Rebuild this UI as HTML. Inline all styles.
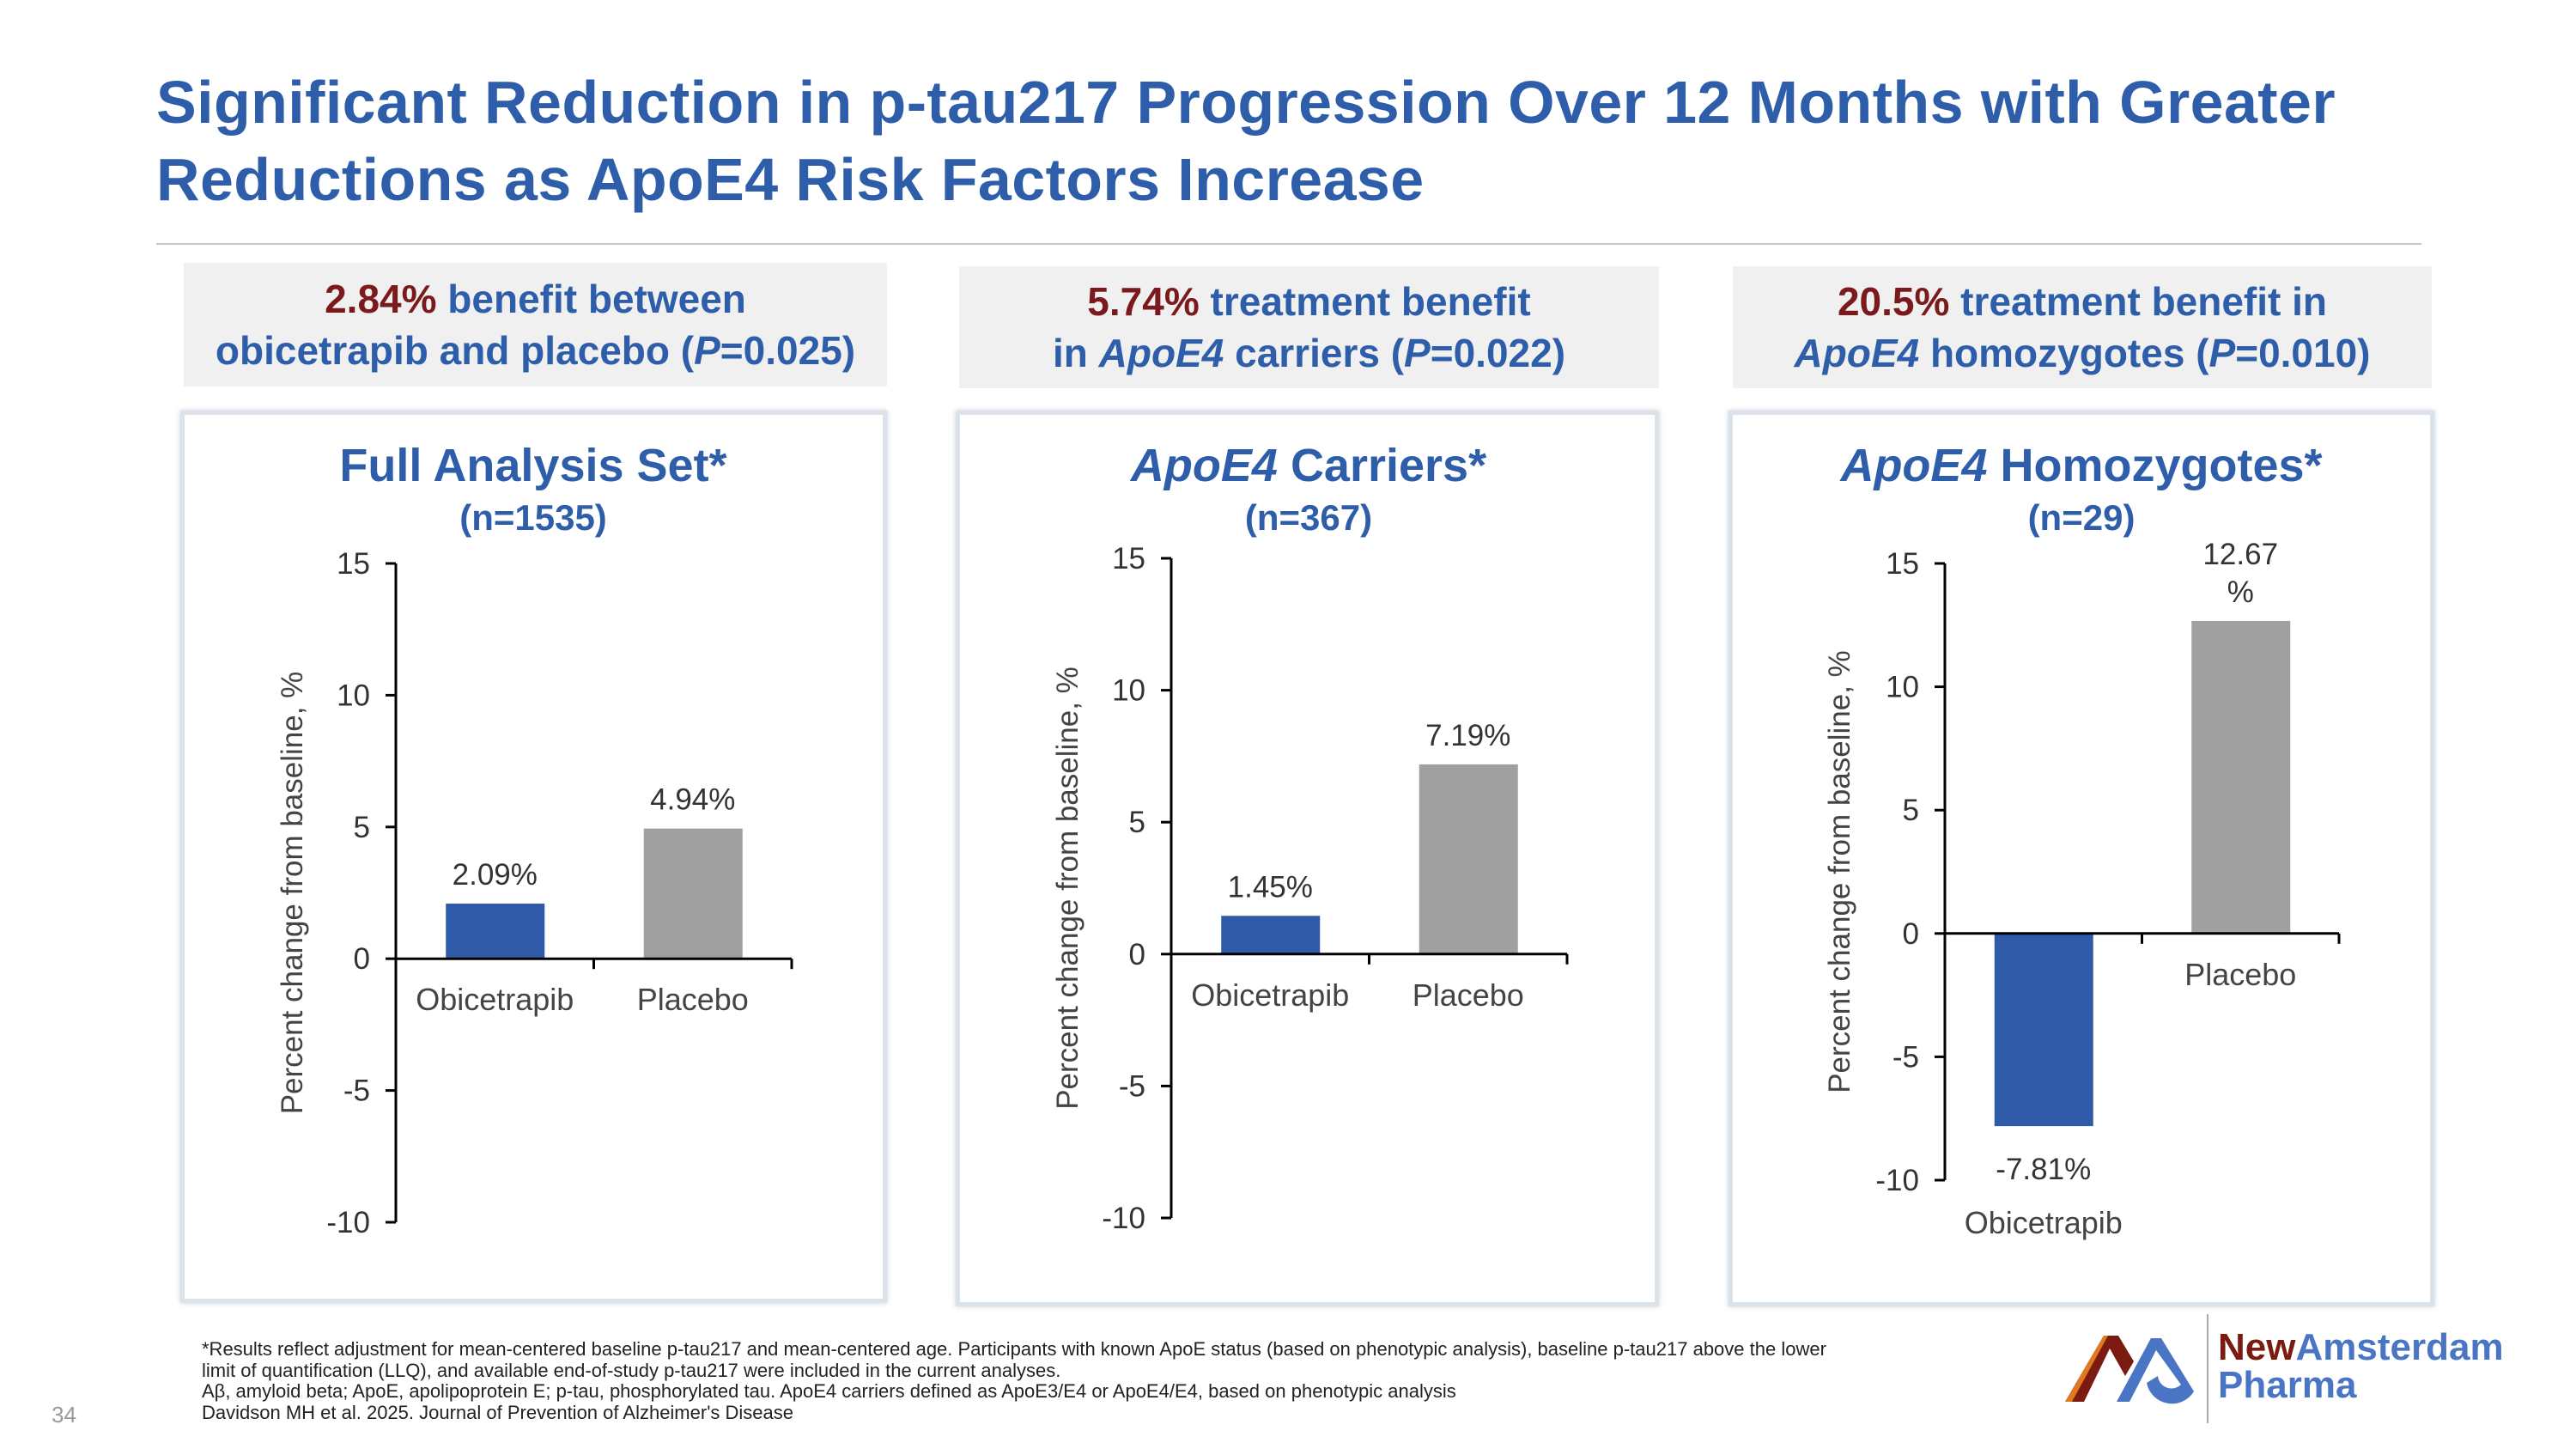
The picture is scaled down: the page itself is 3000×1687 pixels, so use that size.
<!DOCTYPE html>
<html><head><meta charset="utf-8"><style>
body{margin:0;width:3000px;height:1687px;overflow:hidden;background:#fff;font-family:"Liberation Sans",sans-serif;position:relative}
.abs{position:absolute}
.title{left:182px;top:74px;font-size:70px;font-weight:bold;color:#2e5ea9;line-height:90px;letter-spacing:0.4px}
.callout{background:#f0f0f0;color:#2e5ea9;font-size:46px;font-weight:bold;text-align:center;line-height:60px;display:flex;align-items:center;justify-content:center}
.red{color:#7a1a1c}
.panel{border:5px solid #dbe2ea;box-shadow:0 0 6px #c8d0d8;background:#fff}
.foot{left:235px;top:1559px;font-size:22px;line-height:24.5px;color:#222}
</style></head><body>
<div class="abs title">Significant Reduction in p-tau217 Progression Over 12 Months with Greater<br>Reductions as ApoE4 Risk Factors Increase</div>
<div class="abs" style="left:182px;top:283px;width:2638px;height:2px;background:#c8c8c8"></div>

<div class="abs callout" style="left:214px;top:306px;width:819px;height:144px"><div><span class="red">2.84%</span> benefit between<br>obicetrapib and placebo (<i>P</i>=0.025)</div></div>
<div class="abs callout" style="left:1117px;top:310px;width:815px;height:142px"><div><span class="red">5.74%</span> treatment benefit<br>in <i>ApoE4</i> carriers (<i>P</i>=0.022)</div></div>
<div class="abs callout" style="left:2018px;top:310px;width:814px;height:142px"><div><span class="red">20.5%</span> treatment benefit in<br><i>ApoE4</i> homozygotes (<i>P</i>=0.010)</div></div>

<div class="abs panel" style="left:210px;top:478px;width:813px;height:1029px"></div>
<div class="abs panel" style="left:1113px;top:478px;width:809px;height:1033px"></div>
<div class="abs panel" style="left:2013px;top:478px;width:812px;height:1033px"></div>

<svg class="abs" id="charts" style="left:0;top:0" width="3000" height="1687"></svg>

<div class="abs foot">*Results reflect adjustment for mean-centered baseline p-tau217 and mean-centered age. Participants with known ApoE status (based on phenotypic analysis), baseline p-tau217 above the lower<br>limit of quantification (LLQ), and available end-of-study p-tau217 were included in the current analyses.<br>Aβ, amyloid beta; ApoE, apolipoprotein E; p-tau, phosphorylated tau. ApoE4 carriers defined as ApoE3/E4 or ApoE4/E4, based on phenotypic analysis<br>Davidson MH et al. 2025. Journal of Prevention of Alzheimer's Disease</div>
<div class="abs" style="left:60px;top:1632px;font-size:26px;color:#999">34</div>

<svg class="abs" style="left:2405px;top:1550px" width="155" height="85" viewBox="0 0 155 85">
<polygon points="0,82 45,5 62,5 80,35 70,52 52,20 22,82" fill="#7a1a10"/>
<polygon points="0,82 45,5 50,5 8,82" fill="#e07a20"/>
<path d="M60,82 L100,8 L112,8 L150,70 A30,30 0 0 1 95,60 L108,52 A16,16 0 0 0 135,62 L106,22 L75,82 Z" fill="#4a74c4"/>
</svg>
<div class="abs" style="left:2570px;top:1530px;width:2px;height:127px;background:#aaa"></div>
<div class="abs" style="left:2583px;top:1547px;font-size:44px;font-weight:bold;line-height:44px;color:#4a74c4"><span style="color:#7a1a10">New</span>Amsterdam<br>Pharma</div>

<script>
const panelTitles=["Full Analysis Set*","Carriers*","Homozygotes*"];
const panelN=["(n=1535)","(n=367)","(n=29)"];
const categories=["Obicetrapib","Placebo"];
const valuesFull=[2.09,4.94];
const valuesCarriers=[1.45,7.19];
const valuesHomo=[-7.81,12.67];
const yTicks=[15,10,5,0,-5,-10];
const labelsFull=["2.09%","4.94%"];
const labelsCarriers=["1.45%","7.19%"];
const labelsHomo=["-7.81%","12.67\n%"];

const svg=document.getElementById('charts');
const NS='http://www.w3.org/2000/svg';
function mk(tag,attrs,txt){const e=document.createElementNS(NS,tag);for(const k in attrs)e.setAttribute(k,attrs[k]);if(txt!==undefined)e.textContent=txt;svg.appendChild(e);return e;}

const cfg=[
 {vals:valuesFull,labels:labelsFull,ax:461,xEnd:922,yTop:656,yBot:1423,cx:621,title:panelTitles[0],italic:false,n:panelN[0],ytx:352},
 {vals:valuesCarriers,labels:labelsCarriers,ax:1364,xEnd:1825,yTop:650,yBot:1418,cx:1524,title:panelTitles[1],italic:true,n:panelN[1],ytx:1255},
 {vals:valuesHomo,labels:labelsHomo,ax:2265,xEnd:2724,yTop:656,yBot:1374,cx:2424,title:panelTitles[2],italic:true,n:panelN[2],ytx:2154}
];
const yMax=yTicks[0],yMin=yTicks[yTicks.length-1];
cfg.forEach((c,pi)=>{
 const y=v=>c.yTop+(yMax-v)/(yMax-yMin)*(c.yBot-c.yTop);
 const bw=(c.xEnd-c.ax)/categories.length;
 const x=i=>c.ax+bw*(i+0.5);
 const t=mk('text',{x:c.cx,y:560,'text-anchor':'middle','font-size':54,'font-weight':'bold',fill:'#2e5ea9'});
 
 
 if(c.italic){const s=document.createElementNS(NS,'tspan');s.setAttribute('font-style','italic');s.textContent='ApoE4 ';t.appendChild(s);}
 t.appendChild(document.createTextNode(c.title));
 const n=mk('text',{x:c.cx,y:617,'text-anchor':'middle','font-size':42,'font-weight':'bold',fill:'#2e5ea9'},c.n);
 
 
 const ya=mk('line',{x1:c.ax,y1:c.yTop,x2:c.ax,y2:c.yBot,stroke:'#000','stroke-width':3});
 
 
 yTicks.forEach(v=>{
  mk('line',{x1:c.ax-12,y1:y(v),x2:c.ax,y2:y(v),stroke:'#000','stroke-width':3});
  const tl=mk('text',{x:c.ax-30,y:y(v)+12,'text-anchor':'end','font-size':35,fill:'#333'},String(v));
  
  
 });
 const yt=mk('text',{x:c.ytx,y:(c.yTop+c.yBot)/2,'text-anchor':'middle','font-size':35,fill:'#444',transform:`rotate(-90 ${c.ytx} ${(c.yTop+c.yBot)/2})`},'Percent change from baseline, %');
 
 
 c.vals.forEach((v,i)=>{
  const top=Math.min(y(v),y(0)),h=Math.abs(y(v)-y(0));
  const b=mk('rect',{x:x(i)-57,y:top,width:115,height:h,fill:i==0?'#2e5aa8':'#a0a0a0'});
  
  
  const lines=c.labels[i].split('\n');
  lines.forEach((ln,k)=>{
   let ly=v>=0?y(v)-22-(lines.length-1-k)*44:y(v)+62;
   const lt=mk('text',{x:x(i),y:ly,'text-anchor':'middle','font-size':35,fill:'#333'},ln);
   
   
  });
  const cl=mk('text',{x:x(i),y:v>=0?y(0)+60:y(v)+125,'text-anchor':'middle','font-size':36,fill:'#444'},categories[i]);
  
  
 });
 const xa=mk('line',{x1:c.ax,y1:y(0),x2:c.xEnd,y2:y(0),stroke:'#000','stroke-width':3});
 
 
 for(let i=1;i<=categories.length;i++)mk('line',{x1:c.ax+bw*i,y1:y(0),x2:c.ax+bw*i,y2:y(0)+12,stroke:'#000','stroke-width':3});
});
</script>
</body></html>
